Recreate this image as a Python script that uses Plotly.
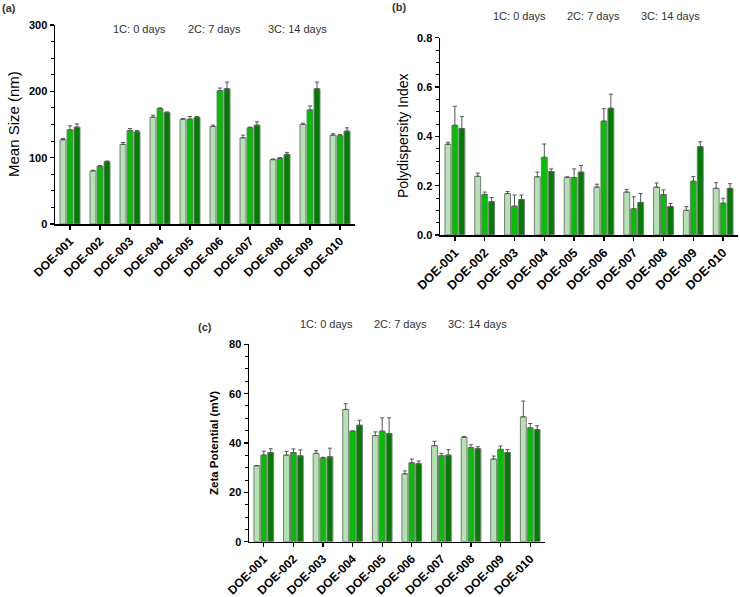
import plotly.graph_objects as go

categories = ["DOE-001", "DOE-002", "DOE-003", "DOE-004", "DOE-005",
              "DOE-006", "DOE-007", "DOE-008", "DOE-009", "DOE-010"]
series_names = ["1C: 0 days", "2C: 7 days", "3C: 14 days"]

# (a) Mean size (nm)
size_1c = [127, 80, 120, 161, 158, 147, 130, 97, 150, 134]
size_2c = [142, 87, 141, 174, 158, 201, 145, 99, 172, 133]
size_3c = [146, 94, 139, 168, 161, 204, 149, 105, 204, 140]
size_1c_err = [2, 1, 3, 3, 1, 2, 4, 1, 2, 2]
size_2c_err = [6, 1, 3, 1, 4, 4, 1, 1, 6, 2]
size_3c_err = [5, 1, 2, 1, 1, 10, 5, 3, 10, 5]

# (b) Polydispersity index
pdi_1c = [0.368, 0.238, 0.168, 0.236, 0.233, 0.194, 0.174, 0.194, 0.100, 0.189]
pdi_2c = [0.445, 0.164, 0.117, 0.315, 0.233, 0.462, 0.106, 0.164, 0.218, 0.129]
pdi_3c = [0.432, 0.135, 0.144, 0.257, 0.255, 0.514, 0.132, 0.116, 0.358, 0.189]
pdi_1c_err = [0.008, 0.013, 0.008, 0.019, 0.003, 0.012, 0.011, 0.017, 0.015, 0.023]
pdi_2c_err = [0.077, 0.010, 0.045, 0.054, 0.035, 0.050, 0.049, 0.019, 0.019, 0.020]
pdi_3c_err = [0.048, 0.017, 0.018, 0.011, 0.027, 0.057, 0.036, 0.012, 0.020, 0.019]

# (c) Zeta potential (mV)
zeta_1c = [30.8, 35.1, 35.8, 53.6, 43.0, 27.5, 38.9, 42.3, 33.5, 50.6]
zeta_2c = [35.1, 36.1, 33.9, 44.8, 44.8, 32.0, 34.8, 38.1, 37.4, 46.1]
zeta_3c = [36.1, 34.8, 34.4, 47.2, 43.8, 31.6, 35.1, 37.7, 36.1, 45.4]
zeta_1c_err = [0.0, 1.5, 1.1, 2.3, 1.5, 1.2, 1.8, 0.4, 1.2, 6.4]
zeta_2c_err = [1.6, 1.5, 0.3, 0.0, 5.4, 1.5, 1.0, 1.2, 1.4, 1.8]
zeta_3c_err = [1.6, 2.4, 3.5, 2.0, 6.4, 1.1, 2.2, 0.8, 1.2, 1.6]

colors = ["#b3e3b3", "#00c000", "#007c00"]
FONT = "Arial, Liberation Sans, sans-serif"
W, H = 740, 597

fig = go.Figure()

panels = [
    ("x", "y", [size_1c, size_2c, size_3c], [size_1c_err, size_2c_err, size_3c_err]),
    ("x2", "y2", [pdi_1c, pdi_2c, pdi_3c], [pdi_1c_err, pdi_2c_err, pdi_3c_err]),
    ("x3", "y3", [zeta_1c, zeta_2c, zeta_3c], [zeta_1c_err, zeta_2c_err, zeta_3c_err]),
]
for xa, ya, vals, errs in panels:
    for i in range(3):
        fig.add_trace(go.Bar(
            x=categories, y=vals[i], name=series_names[i], xaxis=xa, yaxis=ya,
            offsetgroup=str(i),
            marker=dict(color=colors[i], line=dict(color="#7a7a7a", width=1)),
            error_y=dict(type="data", symmetric=False, array=errs[i],
                         arrayminus=[0] * len(errs[i]),
                         color="#555555", thickness=1, width=2),
            showlegend=False,
        ))

def px_x(p):
    return p / W

def px_y(p):
    return 1 - p / H

def xcommon(fs):
    return dict(
        showline=True, linecolor="black", linewidth=1.5, ticks="outside",
        ticklen=4, tickwidth=1.2, tickcolor="black", tickangle=-45,
        tickfont=dict(family=FONT, size=fs, color="black", weight="bold"),
        showgrid=False, zeroline=False, range=[-0.5, 9.5], fixedrange=True,
        automargin=False,
    )

ycommon = dict(
    showline=True, linecolor="black", linewidth=1.5, ticks="outside",
    ticklen=4, tickwidth=1.2, tickcolor="black",
    tickfont=dict(family=FONT, size=11, color="black", weight="bold"),
    showgrid=False, zeroline=False, fixedrange=True, automargin=False,
)

fig.update_layout(
    width=W, height=H, margin=dict(l=0, r=0, t=0, b=0, autoexpand=False),
    paper_bgcolor="white", plot_bgcolor="white",
    barmode="group", bargap=0.3, bargroupgap=0.15,
    font=dict(family=FONT),
    xaxis=dict(xcommon(12), domain=[px_x(55), px_x(355)], anchor="y"),
    yaxis=dict(ycommon, domain=[px_y(224), px_y(25)], anchor="x", range=[0, 300],
               tickvals=[0, 100, 200, 300],
               minor=dict(dtick=25, ticks="outside", ticklen=3, tickcolor="black", tickwidth=1)),
    xaxis2=dict(xcommon(12.5), domain=[px_x(440), px_x(738)], anchor="y2"),
    yaxis2=dict(ycommon, domain=[px_y(235), px_y(37.7)], anchor="x2", range=[0, 0.8],
                tickvals=[0, 0.2, 0.4, 0.6, 0.8], tickformat=".1f",
                minor=dict(dtick=0.05, ticks="outside", ticklen=3, tickcolor="black", tickwidth=1)),
    xaxis3=dict(xcommon(12), domain=[px_x(249), px_x(545)], anchor="y3"),
    yaxis3=dict(ycommon, domain=[px_y(541.7), px_y(344.3)], anchor="x3", range=[0, 80],
                tickvals=[0, 20, 40, 60, 80],
                minor=dict(dtick=5, ticks="outside", ticklen=3, tickcolor="black", tickwidth=1)),
)

ann = []
def text(x, y, s, size=11, bold=False, angle=0, color="#333333"):
    ann.append(dict(
        x=px_x(x), y=px_y(y), xref="paper", yref="paper", text=s, showarrow=False,
        xanchor="center", yanchor="middle", textangle=angle,
        font=dict(family=FONT, size=size, color=color, weight="bold" if bold else "normal"),
    ))

# panel labels
text(9, 8, "(a)", 11, True)
text(399, 7, "(b)", 11, True)
text(205, 327, "(c)", 11, True)

# series labels
for (cx, cy) in [((139, 215, 297), 29), ((519, 593, 670), 16), ((326, 400, 477), 324)]:
    for name, x in zip(series_names, cx):
        text(x, cy, name, 11, False)

# axis titles
text(14, 124, "Mean Size (nm)", 15, False, -90, "black")
text(403, 136, "Polydispersity Index", 14, False, -90, "black")
text(214, 443, "Zeta Potential (mV)", 11.5, True, -90, "black")

fig.update_layout(annotations=ann)

fig.write_html(
    "out.html",
    config={"displayModeBar": False, "staticPlot": True},
    post_script="document.body.style.margin='0';document.body.style.overflow='hidden';",
)
